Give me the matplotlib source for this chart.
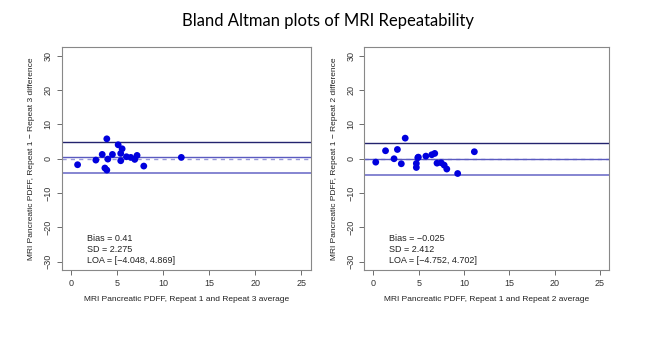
import matplotlib
matplotlib.use("Agg")
import matplotlib.pyplot as plt
import numpy as np

# Panel 1: Repeat 1 vs Repeat 3
avg_13 = [0.72, 2.70, 3.39, 3.89, 3.68, 3.89, 4.00, 4.50, 5.12, 5.55, 5.40, 5.40,
          6.02, 6.49, 6.92, 7.17, 7.90, 11.97]
diff_13 = [-1.74, -0.39, 1.26, 5.80, -2.70, -3.30, -0.10, 1.26, 4.07, 2.90, 1.55, -0.58,
           0.58, 0.39, -0.19, 0.97, -2.13, 0.39]
stats_13 = {"bias": 0.41, "sd": 2.275, "loa": (-4.048, 4.869)}

# Panel 2: Repeat 1 vs Repeat 2
avg_12 = [0.26, 1.34, 2.28, 2.65, 3.08, 3.51, 4.74, 4.74, 4.96, 4.90, 5.79, 6.44,
          6.77, 7.02, 7.48, 7.81, 8.10, 9.30, 11.14]
diff_12 = [-0.99, 2.33, 0.00, 2.70, -1.46, 6.00, -1.37, -2.54, 0.47, 0.30, 0.76, 1.17,
           1.55, -1.28, -1.17, -1.86, -3.00, -4.30, 2.04]
stats_12 = {"bias": -0.025, "sd": 2.412, "loa": (-4.752, 4.702)}

xticks = [0, 5, 10, 15, 20, 25]
yticks = [-30, -20, -10, 0, 10, 20, 30]

plt.rcParams["font.family"] = ["Liberation Sans", "DejaVu Sans"]

fig = plt.figure(figsize=(6.68, 3.40), dpi=100)
fig.patch.set_facecolor("white")

fig.text(0.491, 0.938, "Bland Altman plots of MRI Repeatability", ha="center", va="center",
         fontsize=12, family=["Lato", "DejaVu Sans"], color="black")

panels = [
    (avg_13, diff_13, stats_13, [0.0924, 0.2059, 0.3727, 0.6544],
     "MRI Pancreatic PDFF, Repeat 1 and Repeat 3 average",
     "MRI Pancreatic PDFF, Repeat 1 \u2212 Repeat 3 difference", "0.41"),
    (avg_12, diff_12, stats_12, [0.5454, 0.2059, 0.3663, 0.6544],
     "MRI Pancreatic PDFF, Repeat 1 and Repeat 2 average",
     "MRI Pancreatic PDFF, Repeat 1 \u2212 Repeat 2 difference", "\u22120.025"),
]

gray = "#555555"
for xs, ys, st, pos, xl, yl, bias_txt in panels:
    ax = fig.add_axes(pos)
    ax.set_xlim(-1, 26)
    ax.set_ylim(-32.4, 32.4)
    ax.axhline(0, color="#9a9ad8", lw=1.0, ls=(0, (3, 3)), zorder=1)
    ax.axhline(st["bias"], color="#5a5ac0", lw=1.0, zorder=2)
    ax.axhline(st["loa"][1], color="#23236e", lw=1.0, zorder=2)
    ax.axhline(st["loa"][0], color="#7c7cce", lw=1.3, zorder=2)
    ax.scatter(xs, ys, s=24, color="#0000dd", edgecolors="none", zorder=3)
    ax.set_xticks(xticks)
    ax.set_yticks(yticks)
    ax.set_xticklabels([str(t) for t in xticks])
    ax.set_yticklabels([str(t).replace("-", "\u2212") for t in yticks], rotation=90, va="center")
    ax.tick_params(axis="both", labelsize=6.5, colors=gray, length=3.5, width=0.6, pad=3)
    for lab in ax.get_xticklabels() + ax.get_yticklabels():
        lab.set_color("#333333")
    for sp in ax.spines.values():
        sp.set_color("#888888")
        sp.set_linewidth(0.8)
    ax.set_xlabel(xl, fontsize=6, color="#222222", labelpad=6)
    ax.set_ylabel(yl, fontsize=6, color="#222222", labelpad=6)
    ax.text(1.7, -23.3, "Bias = " + bias_txt, fontsize=6.5, va="center", color="#222222")
    ax.text(1.7, -26.4, "SD = %g" % st["sd"], fontsize=6.5, va="center", color="#222222")
    lo, hi = st["loa"]
    ax.text(1.7, -29.5, "LOA = [%s, %s]" % (("%g" % lo).replace("-", "\u2212"), "%g" % hi),
            fontsize=6.5, va="center", color="#222222")

fig.savefig("out.png", dpi=100, facecolor="white")
